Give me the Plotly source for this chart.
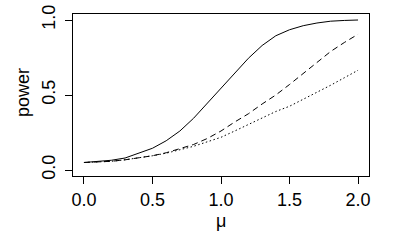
import plotly.graph_objects as go

mu = [0.0, 0.1, 0.2, 0.3, 0.4, 0.5, 0.6, 0.7, 0.8, 0.9, 1.0,
      1.1, 1.2, 1.3, 1.4, 1.5, 1.6, 1.7, 1.8, 1.9, 2.0]
power_solid = [0.05, 0.055, 0.065, 0.08, 0.11, 0.145, 0.195, 0.26, 0.345, 0.445, 0.545,
               0.65, 0.745, 0.83, 0.895, 0.935, 0.962, 0.98, 0.992, 0.997, 1.0]
power_dashed = [0.05, 0.052, 0.058, 0.068, 0.08, 0.095, 0.115, 0.14, 0.17, 0.21, 0.26,
                0.32, 0.375, 0.44, 0.50, 0.57, 0.645, 0.72, 0.79, 0.85, 0.905]
power_dotted = [0.05, 0.052, 0.058, 0.068, 0.08, 0.095, 0.112, 0.133, 0.158, 0.188, 0.218,
                0.26, 0.305, 0.35, 0.39, 0.425, 0.47, 0.515, 0.565, 0.615, 0.665]

x_ticks = [0.0, 0.5, 1.0, 1.5, 2.0]
x_ticklabels = ["0.0", "0.5", "1.0", "1.5", "2.0"]
y_ticks = [0.0, 0.5, 1.0]
y_ticklabels = ["0.0", "0.5", "1.0"]
x_title = "μ"
y_title = "power"

fig = go.Figure()
fig.add_trace(go.Scatter(x=mu, y=power_solid, mode="lines",
                         line=dict(color="black", width=1)))
fig.add_trace(go.Scatter(x=mu, y=power_dashed, mode="lines",
                         line=dict(color="black", width=1, dash="6px,4px")))
fig.add_trace(go.Scatter(x=mu, y=power_dotted, mode="lines",
                         line=dict(color="black", width=1, dash="1.5px,2.5px")))

font = dict(family="Liberation Sans, Arial, sans-serif", size=18, color="black")

fig.update_layout(
    width=400, height=250,
    margin=dict(l=73, r=31, t=14, b=74),
    paper_bgcolor="white", plot_bgcolor="white",
    showlegend=False,
    font=font,
    xaxis=dict(
        range=[-0.08, 2.08], tickvals=x_ticks, ticktext=x_ticklabels,
        showgrid=False, zeroline=False, automargin=False,
        showline=True, mirror=True, linecolor="black", linewidth=1,
        ticks="outside", ticklen=7, tickcolor="black", tickwidth=1,
        tickfont=font, ticklabeloverflow="allow",
    ),
    yaxis=dict(
        range=[-0.04, 1.04], tickvals=y_ticks, ticktext=y_ticklabels,
        showgrid=False, zeroline=False, automargin=False,
        showline=True, mirror=True, linecolor="black", linewidth=1,
        ticks="outside", ticklen=7, tickcolor="black", tickwidth=1,
        tickangle=-90, tickfont=font, ticklabelstandoff=3,
        ticklabeloverflow="allow",
    ),
    annotations=[
        dict(text=x_title, xref="paper", yref="paper", x=0.5, y=0,
             xanchor="center", yanchor="middle", yshift=-45,
             showarrow=False, font=font),
        dict(text=y_title, xref="paper", yref="paper", x=0, y=0.5,
             xanchor="center", yanchor="middle", xshift=-50, yshift=2,
             textangle=-90, showarrow=False, font=font),
    ],
)

fig.write_html("out.html", config={"displayModeBar": False},
               post_script="document.body.style.margin='0';")
